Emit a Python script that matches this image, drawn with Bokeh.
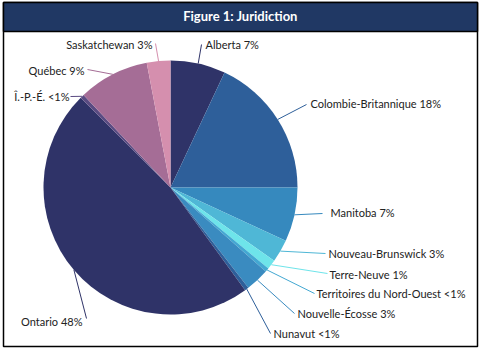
import math
from bokeh.plotting import figure
from bokeh.models import Range1d, ColumnDataSource
from bokeh.core.properties import value
from bokeh.embed import file_html
from bokeh.resources import INLINE

# ---- data ----
provinces = ["Alberta", "Colombie-Britannique", "Manitoba", "Nouveau-Brunswick",
             "Terre-Neuve", "Territoires du Nord-Ouest", "Nouvelle-Écosse", "Nunavut",
             "Ontario", "Î.-P.-É.", "Québec", "Saskatchewan"]
shares = [7.0, 18.0, 6.9, 2.9, 1.2, 0.5, 3.0, 0.5, 47.5, 0.5, 9.0, 3.0]
pct_labels = ["7%", "18%", "7%", "3%", "1%", "<1%", "3%", "<1%", "48%", "<1%", "9%", "3%"]
title = "Figure 1: Juridiction"

# ---- style / layout ----
colors = ["#2F3368", "#2E5F9A", "#3689BE", "#4FB7D6", "#6EE4EA", "#43A8D2",
          "#3A8BC0", "#2E5F9A", "#2F3368", "#5A4B82", "#A56D96", "#D58FAE"]
W, H = 481, 352
cx, cy, R = 170, 187, 127
# label anchor (screen px), alignment, leader end point near label
label_pos = [(205, 44, "left", 201, 44), (310, 103, "left", 306, 104),
             (330, 212, "left", 322, 213), (328, 253, "left", 325, 253),
             (329, 274, "left", 327, 273), (316, 293, "left", 314, 293),
             (297, 313, "left", 294, 313), (273, 333, "left", 270, 333),
             (82, 321, "right", 86, 318), (69, 96, "right", 70, 96),
             (84, 70, "right", 87, 69), (152, 44, "right", 155, 43)]
font = "Lato"

def Y(y):
    return H - y

p = figure(width=W, height=H, output_backend="svg", toolbar_location=None,
           x_range=Range1d(0, W), y_range=Range1d(0, H),
           x_axis_location=None, y_axis_location=None, min_border=0)
p.outline_line_color = None
p.grid.visible = False
p.background_fill_color = "white"
p.border_fill_color = "white"

# frame and title bar
p.quad(left=[3], right=[477], bottom=[Y(346)], top=[Y(2)], fill_color="white",
       line_color="black", line_width=1.5)
p.quad(left=[3], right=[477], bottom=[Y(31)], top=[Y(2)], fill_color="#203864",
       line_color="black", line_width=1.5)
p.text(x=[240], y=[Y(15)], text=[title], text_color="white", text_font=value(font),
       text_font_style="bold", text_font_size="13px", text_align="center",
       text_baseline="middle")

# wedges
total = sum(shares)
starts, ends, mids = [], [], []
cum = 0.0
for s in shares:
    f0, f1 = cum / total, (cum + s) / total
    cum += s
    starts.append(math.pi / 2 - f1 * 2 * math.pi)
    ends.append(math.pi / 2 - f0 * 2 * math.pi)
    mids.append(math.pi / 2 - (f0 + f1) / 2 * 2 * math.pi)

src = ColumnDataSource(dict(start=starts, end=ends, color=colors))
p.wedge(x=cx, y=Y(cy), radius=R, start_angle="start", end_angle="end",
        fill_color="color", line_color=None, source=src)

# leaders and labels
for i, name in enumerate(provinces):
    lx, ly, align, ex, ey = label_pos[i]
    a = mids[i]
    rx = cx + R * math.cos(a)
    ry = Y(cy) + R * math.sin(a)
    p.line([rx, ex], [ry, Y(ey)], line_color=colors[i], line_width=1)
    p.text(x=[lx], y=[Y(ly)], text=[f"{name} {pct_labels[i]}"], text_color="#222222",
           text_font=value(font), text_font_size="11px", text_align=align,
           text_baseline="middle")

open("out.html", "w").write(file_html(p, INLINE))
